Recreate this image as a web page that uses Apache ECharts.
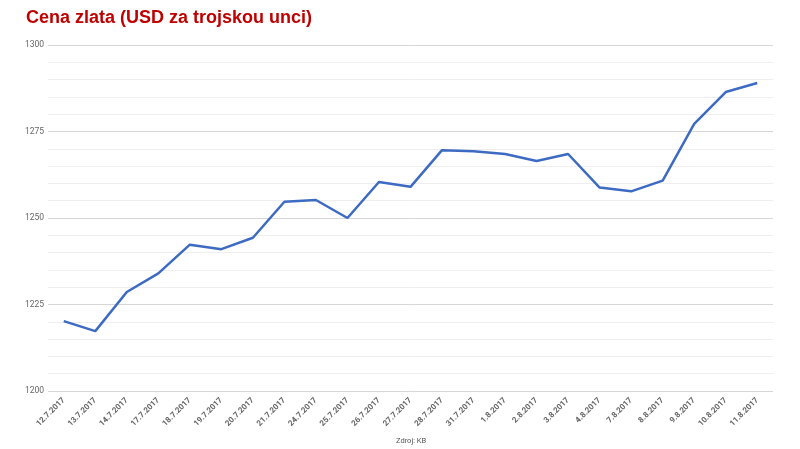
<!DOCTYPE html>
<html>
<head>
<meta charset="utf-8">
<script src="https://cdn.jsdelivr.net/npm/echarts@6/dist/echarts.min.js"></script>
<style>html,body{margin:0;padding:0;background:#fff}#c{width:800px;height:449px}</style>
</head>
<body>
<div id="c"></div>
<script>
var categories = ['12.7.2017','13.7.2017','14.7.2017','17.7.2017','18.7.2017','19.7.2017','20.7.2017','21.7.2017','24.7.2017','25.7.2017','26.7.2017','27.7.2017','28.7.2017','31.7.2017','1.8.2017','2.8.2017','3.8.2017','4.8.2017','7.8.2017','8.8.2017','9.8.2017','10.8.2017','11.8.2017'];
var prices = [1220.2,1217.3,1228.6,1234.0,1242.3,1241.0,1244.3,1254.7,1255.2,1250.0,1260.4,1259.0,1269.6,1269.3,1268.5,1266.5,1268.5,1258.8,1257.7,1260.8,1277.2,1286.4,1289.0];
var yTicks = {min:1200, max:1300, interval:25};

var chart = echarts.init(document.getElementById('c'));
chart.setOption({
  animation:false,
  title:{
    text:'Cena zlata (USD za trojskou unci)',
    left:21, top:4,
    textStyle:{color:'#c00000', fontSize:18, fontWeight:'bold', fontFamily:'Liberation Sans, Arial, sans-serif'}
  },
  graphic:[{
    type:'text', left:396, top:437,
    style:{text:'Zdroj: KB', fill:'#555', font:'7.5px Roboto, Liberation Sans, Arial, sans-serif'}
  }],
  grid:{left:48, right:27, top:45, bottom:58, containLabel:false},
  xAxis:{
    type:'category', data:categories, boundaryGap:true,
    axisLine:{show:false}, axisTick:{show:false},
    axisLabel:{rotate:45, fontSize:8, color:'#666', fontWeight:'bold', margin:8, interval:0, fontFamily:'Roboto, Liberation Sans, Arial, sans-serif'}
  },
  yAxis:{
    type:'value', min:yTicks.min, max:yTicks.max, interval:yTicks.interval,
    axisLine:{show:false}, axisTick:{show:false},
    axisLabel:{fontSize:8.5, color:'#666', margin:4, fontFamily:'Roboto, Liberation Sans, Arial, sans-serif',
      formatter:function(v){return String(v);}},
    splitLine:{lineStyle:{color:'#d6d6d6', width:1}},
    minorTick:{show:false, splitNumber:5},
    minorSplitLine:{show:true, lineStyle:{color:'#eeeeee', width:1}}
  },
  series:[{
    type:'line', data:prices, symbol:'none',
    lineStyle:{color:'#3d6ac2', width:2.5}
  }]
});
</script>
</body>
</html>
